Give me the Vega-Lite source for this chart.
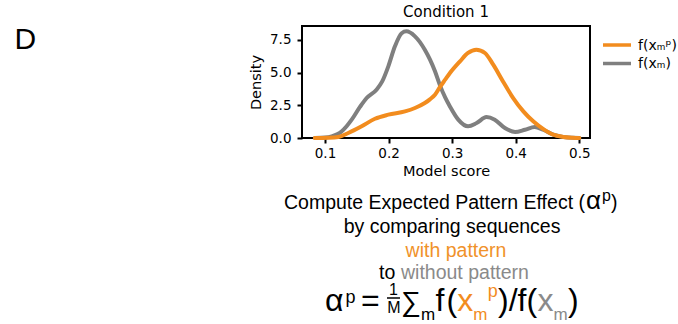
{
  "$schema": "https://vega.github.io/schema/vega-lite/v6.json",
  "width": 288,
  "height": 112,
  "autosize": {"type": "none"},
  "padding": {"left": 302, "top": 26, "right": 88, "bottom": 186},
  "background": "white",
  "title": {"text": "Condition 1", "font": "DejaVu Sans", "fontSize": 15, "fontWeight": "normal", "color": "black", "offset": 3},
  "resolve": {"axis": {"x": "independent", "y": "independent"}},
  "config": {
    "view": {"stroke": "black", "strokeWidth": 2},
    "axis": {"domain": false, "grid": false, "tickColor": "black", "tickWidth": 2, "tickSize": 5, "labelFont": "DejaVu Sans", "labelFontSize": 13.5, "labelColor": "black", "labelOverlap": false, "titleFont": "DejaVu Sans", "titleFontSize": 14.5, "titleFontWeight": "normal", "titleColor": "black"}
  },
  "datasets": {
    "curves": [
      {"series": "f(xₘ)", "score": 0.084, "density": 0.0},
      {"series": "f(xₘ)", "score": 0.1, "density": 0.03},
      {"series": "f(xₘ)", "score": 0.1105, "density": 0.12},
      {"series": "f(xₘ)", "score": 0.12, "density": 0.3},
      {"series": "f(xₘ)", "score": 0.126, "density": 0.5},
      {"series": "f(xₘ)", "score": 0.134, "density": 0.9},
      {"series": "f(xₘ)", "score": 0.142, "density": 1.4},
      {"series": "f(xₘ)", "score": 0.155, "density": 2.37},
      {"series": "f(xₘ)", "score": 0.1655, "density": 3.05},
      {"series": "f(xₘ)", "score": 0.181, "density": 3.69},
      {"series": "f(xₘ)", "score": 0.19, "density": 4.32},
      {"series": "f(xₘ)", "score": 0.1996, "density": 5.47},
      {"series": "f(xₘ)", "score": 0.21, "density": 7.0},
      {"series": "f(xₘ)", "score": 0.2206, "density": 8.0},
      {"series": "f(xₘ)", "score": 0.228, "density": 8.14},
      {"series": "f(xₘ)", "score": 0.2415, "density": 7.76},
      {"series": "f(xₘ)", "score": 0.257, "density": 6.74},
      {"series": "f(xₘ)", "score": 0.265, "density": 6.0},
      {"series": "f(xₘ)", "score": 0.273, "density": 5.1},
      {"series": "f(xₘ)", "score": 0.281, "density": 4.0},
      {"series": "f(xₘ)", "score": 0.289, "density": 3.1},
      {"series": "f(xₘ)", "score": 0.2965, "density": 2.41},
      {"series": "f(xₘ)", "score": 0.3096, "density": 1.4},
      {"series": "f(xₘ)", "score": 0.325, "density": 0.89},
      {"series": "f(xₘ)", "score": 0.3385, "density": 1.14},
      {"series": "f(xₘ)", "score": 0.354, "density": 1.6},
      {"series": "f(xₘ)", "score": 0.367, "density": 1.4},
      {"series": "f(xₘ)", "score": 0.383, "density": 0.76},
      {"series": "f(xₘ)", "score": 0.399, "density": 0.46},
      {"series": "f(xₘ)", "score": 0.4145, "density": 0.63},
      {"series": "f(xₘ)", "score": 0.43, "density": 0.84},
      {"series": "f(xₘ)", "score": 0.443, "density": 0.63},
      {"series": "f(xₘ)", "score": 0.459, "density": 0.25},
      {"series": "f(xₘ)", "score": 0.475, "density": 0.08},
      {"series": "f(xₘ)", "score": 0.49, "density": 0.01},
      {"series": "f(xₘ)", "score": 0.5, "density": 0.0},
      {"series": "f(xₘᵖ)", "score": 0.084, "density": 0.0},
      {"series": "f(xₘᵖ)", "score": 0.105, "density": 0.02},
      {"series": "f(xₘᵖ)", "score": 0.121, "density": 0.08},
      {"series": "f(xₘᵖ)", "score": 0.1366, "density": 0.38},
      {"series": "f(xₘᵖ)", "score": 0.1577, "density": 0.89},
      {"series": "f(xₘᵖ)", "score": 0.1786, "density": 1.47},
      {"series": "f(xₘᵖ)", "score": 0.1996, "density": 1.78},
      {"series": "f(xₘᵖ)", "score": 0.2258, "density": 2.03},
      {"series": "f(xₘᵖ)", "score": 0.2415, "density": 2.29},
      {"series": "f(xₘᵖ)", "score": 0.257, "density": 2.67},
      {"series": "f(xₘᵖ)", "score": 0.265, "density": 2.95},
      {"series": "f(xₘᵖ)", "score": 0.273, "density": 3.3},
      {"series": "f(xₘᵖ)", "score": 0.281, "density": 3.9},
      {"series": "f(xₘᵖ)", "score": 0.289, "density": 4.45},
      {"series": "f(xₘᵖ)", "score": 0.2965, "density": 4.96},
      {"series": "f(xₘᵖ)", "score": 0.3123, "density": 5.85},
      {"series": "f(xₘᵖ)", "score": 0.325, "density": 6.49},
      {"series": "f(xₘᵖ)", "score": 0.338, "density": 6.74},
      {"series": "f(xₘᵖ)", "score": 0.3516, "density": 6.49},
      {"series": "f(xₘᵖ)", "score": 0.3646, "density": 5.6},
      {"series": "f(xₘᵖ)", "score": 0.38, "density": 4.32},
      {"series": "f(xₘᵖ)", "score": 0.396, "density": 3.05},
      {"series": "f(xₘᵖ)", "score": 0.412, "density": 2.03},
      {"series": "f(xₘᵖ)", "score": 0.4275, "density": 1.27},
      {"series": "f(xₘᵖ)", "score": 0.443, "density": 0.69},
      {"series": "f(xₘᵖ)", "score": 0.459, "density": 0.25},
      {"series": "f(xₘᵖ)", "score": 0.475, "density": 0.08},
      {"series": "f(xₘᵖ)", "score": 0.49, "density": 0.02},
      {"series": "f(xₘᵖ)", "score": 0.5, "density": 0.0}
    ],
    "one": [{}]
  },
  "layer": [
    {
      "data": {"name": "curves"},
      "mark": {"type": "line", "strokeWidth": 4, "interpolate": "monotone", "strokeCap": "round"},
      "encoding": {
        "x": {"field": "score", "type": "quantitative", "scale": {"domain": [0.06382, 0.51683], "nice": false, "zero": false}, "axis": {"title": "Model score", "values": [0.1, 0.2, 0.3, 0.4, 0.5], "format": ".1f", "labelPadding": 3, "titlePadding": 5}},
        "y": {"field": "density", "type": "quantitative", "scale": {"domain": [0, 8.55], "nice": false, "zero": false}, "axis": {"title": "Density", "values": [0, 2.5, 5, 7.5], "format": ".1f", "labelPadding": 6, "titlePadding": 6, "labelOverlap": false}},
        "color": {"field": "series", "type": "nominal", "scale": {"domain": ["f(xₘᵖ)", "f(xₘ)"], "range": ["#F28C1E", "#7F7F7F"]}, "legend": null},
        "order": {"field": "series", "sort": "descending"}
      }
    },
    {"data": {"name": "one"}, "mark": {"type": "rule", "strokeWidth": 3.5, "color": "#F28C1E"}, "encoding": {"x": {"datum": 0.53727, "type": "quantitative", "axis": null}, "x2": {"datum": 0.58132}, "y": {"datum": 7.099, "type": "quantitative", "axis": null}}},
    {"data": {"name": "one"}, "mark": {"type": "rule", "strokeWidth": 3.5, "color": "#7F7F7F"}, "encoding": {"x": {"datum": 0.53727, "type": "quantitative", "axis": null}, "x2": {"datum": 0.58132}, "y": {"datum": 5.687, "type": "quantitative", "axis": null}}},
    {"data": {"name": "one"}, "mark": {"type": "text", "text": "f(xₘᵖ)", "font": "DejaVu Sans", "fontSize": 14, "align": "left", "baseline": "alphabetic", "color": "black"}, "encoding": {"x": {"datum": 0.59233, "type": "quantitative", "axis": null}, "y": {"datum": 6.756, "type": "quantitative", "axis": null}}},
    {"data": {"name": "one"}, "mark": {"type": "text", "text": "f(xₘ)", "font": "DejaVu Sans", "fontSize": 14, "align": "left", "baseline": "alphabetic", "color": "black"}, "encoding": {"x": {"datum": 0.59233, "type": "quantitative", "axis": null}, "y": {"datum": 5.344, "type": "quantitative", "axis": null}}},
    {"data": {"name": "one"}, "mark": {"type": "text", "text": "D", "font": "Liberation Sans", "fontSize": 30, "align": "left", "baseline": "alphabetic", "color": "black"}, "encoding": {"x": {"datum": -0.3884, "type": "quantitative", "axis": null}, "y": {"datum": 6.771, "type": "quantitative", "axis": null}}},
    {"data": {"name": "one"}, "mark": {"type": "text", "text": "Compute Expected Pattern Effect (", "font": "Liberation Sans", "fontSize": 19.5, "align": "left", "baseline": "alphabetic", "color": "black"}, "encoding": {"x": {"datum": 0.03551, "type": "quantitative", "axis": null}, "y": {"datum": -5.42, "type": "quantitative", "axis": null}}},
    {"data": {"name": "one"}, "mark": {"type": "text", "text": "α", "font": "Liberation Sans", "fontSize": 26, "align": "left", "baseline": "alphabetic", "color": "black"}, "encoding": {"x": {"datum": 0.51053, "type": "quantitative", "axis": null}, "y": {"datum": -5.42, "type": "quantitative", "axis": null}}},
    {"data": {"name": "one"}, "mark": {"type": "text", "text": "p", "font": "Liberation Sans", "fontSize": 16, "align": "left", "baseline": "alphabetic", "color": "black"}, "encoding": {"x": {"datum": 0.5357, "type": "quantitative", "axis": null}, "y": {"datum": -4.847, "type": "quantitative", "axis": null}}},
    {"data": {"name": "one"}, "mark": {"type": "text", "text": ")", "font": "Liberation Sans", "fontSize": 19.5, "align": "left", "baseline": "alphabetic", "color": "black"}, "encoding": {"x": {"datum": 0.54986, "type": "quantitative", "axis": null}, "y": {"datum": -5.42, "type": "quantitative", "axis": null}}},
    {"data": {"name": "one"}, "mark": {"type": "text", "text": "by comparing sequences", "font": "Liberation Sans", "fontSize": 19.5, "align": "center", "baseline": "alphabetic", "color": "black"}, "encoding": {"x": {"datum": 0.2998, "type": "quantitative", "axis": null}, "y": {"datum": -7.229, "type": "quantitative", "axis": null}}},
    {"data": {"name": "one"}, "mark": {"type": "text", "text": "with pattern", "font": "Liberation Sans", "fontSize": 19.5, "align": "center", "baseline": "alphabetic", "color": "#F0922A"}, "encoding": {"x": {"datum": 0.30605, "type": "quantitative", "axis": null}, "y": {"datum": -9.084, "type": "quantitative", "axis": null}}},
    {"data": {"name": "one"}, "mark": {"type": "text", "text": "to", "font": "Liberation Sans", "fontSize": 19.5, "align": "left", "baseline": "alphabetic", "color": "black"}, "encoding": {"x": {"datum": 0.18494, "type": "quantitative", "axis": null}, "y": {"datum": -10.763, "type": "quantitative", "axis": null}}},
    {"data": {"name": "one"}, "mark": {"type": "text", "text": "without pattern", "font": "Liberation Sans", "fontSize": 19.5, "align": "left", "baseline": "alphabetic", "color": "#8A8A8A"}, "encoding": {"x": {"datum": 0.21954, "type": "quantitative", "axis": null}, "y": {"datum": -10.763, "type": "quantitative", "axis": null}}},
    {"data": {"name": "one"}, "mark": {"type": "text", "text": "α", "font": "Liberation Sans", "fontSize": 32, "align": "left", "baseline": "alphabetic", "color": "black"}, "encoding": {"x": {"datum": 0.1, "type": "quantitative", "axis": null}, "y": {"datum": -13.206, "type": "quantitative", "axis": null}}},
    {"data": {"name": "one"}, "mark": {"type": "text", "text": "p", "font": "Liberation Sans", "fontSize": 18, "align": "left", "baseline": "alphabetic", "color": "black"}, "encoding": {"x": {"datum": 0.13225, "type": "quantitative", "axis": null}, "y": {"datum": -12.634, "type": "quantitative", "axis": null}}},
    {"data": {"name": "one"}, "mark": {"type": "text", "text": "=", "font": "Liberation Sans", "fontSize": 32, "align": "left", "baseline": "alphabetic", "color": "black"}, "encoding": {"x": {"datum": 0.15662, "type": "quantitative", "axis": null}, "y": {"datum": -13.206, "type": "quantitative", "axis": null}}},
    {"data": {"name": "one"}, "mark": {"type": "text", "text": "1", "font": "Liberation Sans", "fontSize": 16, "align": "center", "baseline": "alphabetic", "color": "black"}, "encoding": {"x": {"datum": 0.20774, "type": "quantitative", "axis": null}, "y": {"datum": -11.962, "type": "quantitative", "axis": null}}},
    {"data": {"name": "one"}, "mark": {"type": "rule", "strokeWidth": 1.5, "color": "black"}, "encoding": {"x": {"datum": 0.19752, "type": "quantitative", "axis": null}, "x2": {"datum": 0.21797}, "y": {"datum": -12.214, "type": "quantitative", "axis": null}}},
    {"data": {"name": "one"}, "mark": {"type": "text", "text": "M", "font": "Liberation Sans", "fontSize": 16, "align": "center", "baseline": "alphabetic", "color": "black"}, "encoding": {"x": {"datum": 0.20853, "type": "quantitative", "axis": null}, "y": {"datum": -13.359, "type": "quantitative", "axis": null}}},
    {"data": {"name": "one"}, "mark": {"type": "text", "text": "∑", "font": "Liberation Sans", "fontSize": 28, "align": "left", "baseline": "alphabetic", "color": "black"}, "encoding": {"x": {"datum": 0.21954, "type": "quantitative", "axis": null}, "y": {"datum": -13.206, "type": "quantitative", "axis": null}}},
    {"data": {"name": "one"}, "mark": {"type": "text", "text": "m", "font": "Liberation Sans", "fontSize": 17, "align": "left", "baseline": "alphabetic", "color": "black"}, "encoding": {"x": {"datum": 0.251, "type": "quantitative", "axis": null}, "y": {"datum": -13.87, "type": "quantitative", "axis": null}}},
    {"data": {"name": "one"}, "mark": {"type": "text", "text": "f", "font": "Liberation Sans", "fontSize": 32, "align": "left", "baseline": "alphabetic", "color": "black"}, "encoding": {"x": {"datum": 0.27381, "type": "quantitative", "axis": null}, "y": {"datum": -13.206, "type": "quantitative", "axis": null}}},
    {"data": {"name": "one"}, "mark": {"type": "text", "text": "(", "font": "Liberation Sans", "fontSize": 32, "align": "left", "baseline": "alphabetic", "color": "black"}, "encoding": {"x": {"datum": 0.29112, "type": "quantitative", "axis": null}, "y": {"datum": -13.206, "type": "quantitative", "axis": null}}},
    {"data": {"name": "one"}, "mark": {"type": "text", "text": "x", "font": "Liberation Sans", "fontSize": 32, "align": "left", "baseline": "alphabetic", "color": "#F28C1E"}, "encoding": {"x": {"datum": 0.30806, "type": "quantitative", "axis": null}, "y": {"datum": -13.206, "type": "quantitative", "axis": null}}},
    {"data": {"name": "one"}, "mark": {"type": "text", "text": "m", "font": "Liberation Sans", "fontSize": 17, "align": "left", "baseline": "alphabetic", "color": "#F28C1E"}, "encoding": {"x": {"datum": 0.33323, "type": "quantitative", "axis": null}, "y": {"datum": -13.87, "type": "quantitative", "axis": null}}},
    {"data": {"name": "one"}, "mark": {"type": "text", "text": "p", "font": "Liberation Sans", "fontSize": 18, "align": "left", "baseline": "alphabetic", "color": "#F28C1E"}, "encoding": {"x": {"datum": 0.35602, "type": "quantitative", "axis": null}, "y": {"datum": -12.176, "type": "quantitative", "axis": null}}},
    {"data": {"name": "one"}, "mark": {"type": "text", "text": ")/f(", "font": "Liberation Sans", "fontSize": 32, "align": "left", "baseline": "alphabetic", "color": "black"}, "encoding": {"x": {"datum": 0.37217, "type": "quantitative", "axis": null}, "y": {"datum": -13.206, "type": "quantitative", "axis": null}}},
    {"data": {"name": "one"}, "mark": {"type": "text", "text": "x", "font": "Liberation Sans", "fontSize": 32, "align": "left", "baseline": "alphabetic", "color": "#8A8A8A"}, "encoding": {"x": {"datum": 0.43427, "type": "quantitative", "axis": null}, "y": {"datum": -13.206, "type": "quantitative", "axis": null}}},
    {"data": {"name": "one"}, "mark": {"type": "text", "text": "m", "font": "Liberation Sans", "fontSize": 17, "align": "left", "baseline": "alphabetic", "color": "#8A8A8A"}, "encoding": {"x": {"datum": 0.45944, "type": "quantitative", "axis": null}, "y": {"datum": -13.87, "type": "quantitative", "axis": null}}},
    {"data": {"name": "one"}, "mark": {"type": "text", "text": ")", "font": "Liberation Sans", "fontSize": 32, "align": "left", "baseline": "alphabetic", "color": "black"}, "encoding": {"x": {"datum": 0.48224, "type": "quantitative", "axis": null}, "y": {"datum": -13.206, "type": "quantitative", "axis": null}}}
  ]
}
